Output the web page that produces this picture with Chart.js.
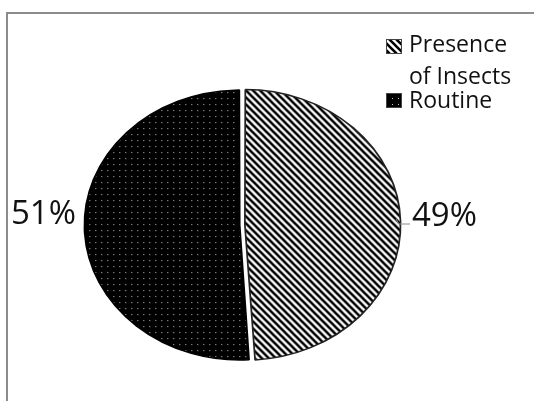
<!DOCTYPE html>
<html><head><meta charset="utf-8">
<script src="https://cdn.jsdelivr.net/npm/chart.js@4"></script>
<style>html,body{margin:0;padding:0;background:#fff}#wrap{width:534px;height:401px;position:relative}</style>
</head><body><div id="wrap"><canvas id="c" width="534" height="401"></canvas></div>
<script>
const categories = ['Presence of Insects', 'Routine'];
const legendLines = [['Presence', 'of Insects'], ['Routine']];
const values = [49, 51];
const percentLabels = ['49%', '51%'];

const RX = 153, RY = 133;
const SX = RX / RY;

function makeHatch(inv) {
  const s = 7, c = document.createElement('canvas');
  c.width = s; c.height = s;
  const g = c.getContext('2d');
  g.fillStyle = '#fff'; g.fillRect(0, 0, s, s);
  g.strokeStyle = '#000'; g.lineWidth = 2.6;
  g.beginPath();
  g.moveTo(-1, -1); g.lineTo(s + 1, s + 1);
  g.moveTo(s - 1, -1); g.lineTo(s + 1, 1);
  g.moveTo(-1, s - 1); g.lineTo(1, s + 1);
  g.stroke();
  const p = g.createPattern(c, 'repeat');
  if (inv) p.setTransform(new DOMMatrix([1 / SX, 0, 0, 1, 0, 0]));
  return p;
}
function makeDots(inv) {
  const s = 6, c = document.createElement('canvas');
  c.width = s; c.height = s;
  const g = c.getContext('2d');
  g.fillStyle = '#000'; g.fillRect(0, 0, s, s);
  g.fillStyle = '#c8c8c8'; g.fillRect(2, 2, 1, 1);
  const p = g.createPattern(c, 'repeat');
  if (inv) p.setTransform(new DOMMatrix([1 / SX, 0, 0, 1, 0, 0]));
  return p;
}

const ellipsePlugin = {
  id: 'ellipse',
  beforeDraw(chart) {
    const ctx = chart.ctx;
    ctx.save();
    ctx.strokeStyle = '#8c8c8c'; ctx.lineWidth = 2;
    ctx.beginPath();
    ctx.moveTo(7, 401); ctx.lineTo(7, 13); ctx.lineTo(534, 13);
    ctx.stroke();
    ctx.restore();
  },
  beforeDatasetsDraw(chart) {
    const el = chart.getDatasetMeta(0).data[0];
    const ctx = chart.ctx;
    ctx.save();
    ctx.translate(el.x, el.y);
    ctx.scale(SX, 1);
    ctx.translate(-el.x, -el.y);
  },
  afterDatasetsDraw(chart) {
    chart.ctx.restore();
  },
  afterDraw(chart) {
    const ctx = chart.ctx;
    const el = chart.getDatasetMeta(0).data[0];
    const cy = el.y;
    ctx.save();
    // leader line
    ctx.strokeStyle = '#8c8c8c'; ctx.lineWidth = 1;
    ctx.beginPath();
    ctx.moveTo(396, cy - 6);
    ctx.lineTo(399, cy - 1);
    ctx.lineTo(410, cy - 1);
    ctx.stroke();
    // percent labels
    ctx.fillStyle = '#111';
    ctx.font = '33px "Open Sans"';
    ctx.textBaseline = 'alphabetic';
    ctx.textAlign = 'left';
    ctx.fillText(percentLabels[0], 412, cy + 1);
    ctx.fillText(percentLabels[1], 11, cy - 1);
    // legend
    const fills = [makeHatch(false), makeDots(false)];
    const boxY = [39, 93];
    const baselines = [[52, 84], [108]];
    ctx.font = '23px "Open Sans"';
    for (let i = 0; i < categories.length; i++) {
      ctx.fillStyle = fills[i];
      ctx.fillRect(386, boxY[i], 16, 15);
      ctx.strokeStyle = '#444'; ctx.lineWidth = 1;
      ctx.strokeRect(386.5, boxY[i] + 0.5, 15, 14);
      ctx.fillStyle = '#111';
      legendLines[i].forEach((t, j) => ctx.fillText(t, 409, baselines[i][j]));
    }
    ctx.restore();
  }
};

new Chart(document.getElementById('c'), {
  type: 'pie',
  data: {
    labels: categories,
    datasets: [{
      data: values,
      backgroundColor: [makeHatch(true), makeDots(true)],
      borderColor: ['#222', '#000'],
      borderWidth: 1.5,
      offset: [10, 8],
      radius: RY
    }]
  },
  options: {
    responsive: false,
    animation: false,
    devicePixelRatio: 1,
    layout: { padding: { left: 107, right: 157, top: 90, bottom: 41 } },
    plugins: { legend: { display: false }, tooltip: { enabled: false } }
  },
  plugins: [ellipsePlugin]
});
</script>
</body></html>
